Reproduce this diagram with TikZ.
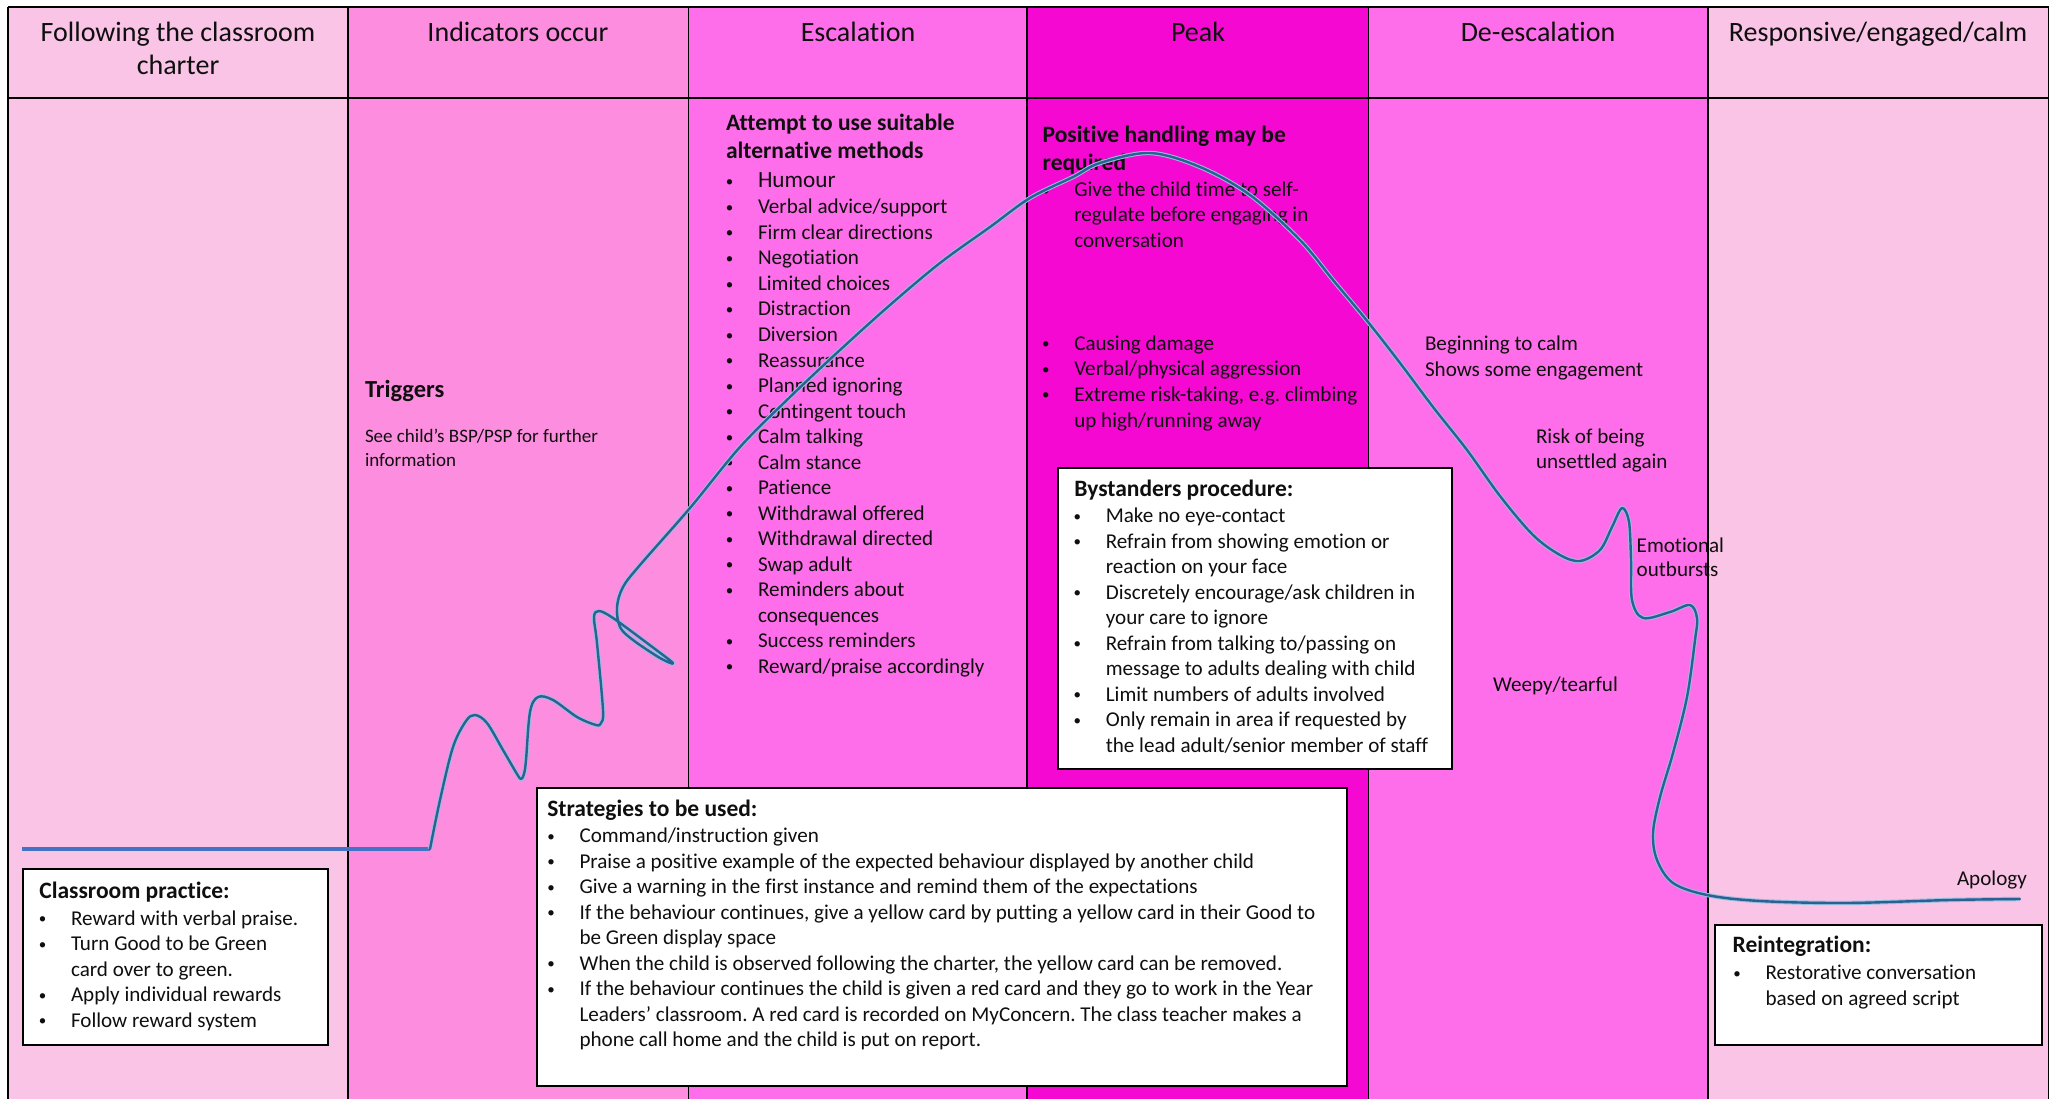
\documentclass[tikz,border=0pt]{standalone}
\usepackage{fontspec}
\setmainfont{Carlito}[Ligatures={NoCommon}]
\frenchspacing
\definecolor{cA}{RGB}{250,196,230}
\definecolor{cB}{RGB}{253,141,223}
\definecolor{cC}{RGB}{255,110,234}
\definecolor{cD}{RGB}{245,8,210}
\definecolor{crvblue}{RGB}{42,96,146}
\definecolor{crvhalo}{RGB}{150,192,224}
\definecolor{hlblue}{RGB}{68,114,196}
\definecolor{ink}{RGB}{15,15,15}
\tikzset{
 body/.style={anchor=base west, inner sep=0pt, outer sep=0pt, text=ink, font=\fontsize{21.1}{25.6}\selectfont},
 bul/.style={anchor=base, inner sep=0pt, outer sep=0pt, text=ink, font=\fontsize{15}{18}\selectfont},
 ttl/.style={anchor=base west, inner sep=0pt, outer sep=0pt, text=ink, font=\bfseries\fontsize{23.5}{28.7}\selectfont},
 smalltxt/.style={anchor=base west, inner sep=0pt, outer sep=0pt, text=ink, font=\fontsize{19}{23.5}\selectfont},
 hdr/.style={anchor=base, inner sep=0pt, outer sep=0pt, text=ink, font=\fontsize{28}{33}\selectfont},
 gridline/.style={line width=1.6pt, black},
 infobox/.style={draw=black, line width=2pt, fill=white, anchor=north west, inner sep=0pt},
 crvline/.style={crvblue, line width=2.4pt, line cap=round, line join=round,
   preaction={draw=crvhalo, line width=4.4pt}},
}
\newcommand{\myitem}[4]{\node[bul] (#1b) at (#2-28.5,#3-1.5) {•}; \node[body] (#1) at (#2,#3) {#4};}
\newcommand{\myline}[4]{\node[body] (#1) at (#2,#3) {#4};}
\begin{document}
\begin{tikzpicture}[x=1pt,y=-1pt]
\useasboundingbox (0,0) rectangle (2055,1099);
\fill[white] (0,0) rectangle (2055,1099);
% columns
\fill[cA] (8,7) rectangle (348,1099);
\fill[cB] (348,7) rectangle (688.5,1099);
\fill[cC] (688.5,7) rectangle (1027,1099);
\fill[cD] (1027,7) rectangle (1368.5,1099);
\fill[cC] (1368.5,7) rectangle (1708,1099);
\fill[cA] (1708,7) rectangle (2048.5,1099);
% grid
\draw[gridline] (8,7) -- (2048.5,7);
\draw[gridline] (8,98) -- (2048.5,98);
\foreach \xx in {8,348,688.5,1027,1368.5,1708,2048.5} {\draw[gridline] (\xx,7) -- (\xx,1099);}
% headers
\node[hdr] (h1a) at (178,41.4) {Following the classroom};
\node[hdr] (h1b) at (178,74.4) {charter};
\node[hdr] (h2) at (518,41.4) {Indicators occur};
\node[hdr] (h3) at (858,41.4) {Escalation};
\node[hdr] (h4) at (1198,41.4) {Peak};
\node[hdr] (h5) at (1538,41.4) {De-escalation};
\node[hdr] (h6) at (1878,41.4) {Responsive/engaged/calm};
% indicators
\node[ttl, font=\bfseries\fontsize{24.5}{29}\selectfont] (trig) at (365,397) {Triggers};
\node[smalltxt] (see1) at (365,442.6) {See child’s BSP/PSP for further};
\node[smalltxt] (see2) at (365,466.5) {information};
% escalation
\node[ttl] (esc1) at (726,130.5) {Attempt to use suitable};
\node[ttl] (esc2) at (726,159) {alternative methods};
\node[bul] (e0b) at (729.5,186.5) {•};
\node[body, font=\fontsize{23.2}{28}\selectfont] (e0) at (758,188) {Humour};
\myitem{e1}{758}{214}{Verbal advice/support}
\myitem{e2}{758}{239.5}{Firm clear directions}
\myitem{e3}{758}{265}{Negotiation}
\myitem{e4}{758}{290.5}{Limited choices}
\myitem{e5}{758}{316}{Distraction}
\myitem{e6}{758}{341.5}{Diversion}
\myitem{e7}{758}{367}{Reassurance}
\myitem{e8}{758}{392.5}{Planned ignoring}
\myitem{e9}{758}{418}{Contingent touch}
\myitem{e10}{758}{443.5}{Calm talking}
\myitem{e11}{758}{469}{Calm stance}
\myitem{e12}{758}{494.5}{Patience}
\myitem{e13}{758}{520}{Withdrawal offered}
\myitem{e14}{758}{545.5}{Withdrawal directed}
\myitem{e15}{758}{571}{Swap adult}
\myitem{e16}{758}{596.5}{Reminders about}
\myline{e16c}{758}{622}{consequences}
\myitem{e17}{758}{647.5}{Success reminders}
\myitem{e18}{758}{673}{Reward/praise accordingly}
% peak
\node[ttl] (pk1) at (1042.7,142.5) {Positive handling may be};
\node[ttl] (pk2) at (1042.7,170.5) {required};
\myitem{p1}{1074.3}{196.7}{Give the child time to self-}
\myline{p1c}{1074.3}{222}{regulate before engaging in}
\myline{p1d}{1074.3}{247.3}{conversation}
\myitem{p2}{1074.3}{350}{Causing damage}
\myitem{p3}{1074.3}{375.7}{Verbal/physical aggression}
\myitem{p4}{1074.3}{401.3}{Extreme risk-taking, e.g. climbing}
\myline{p4c}{1074.3}{427}{up high/running away}
% de-escalation
\myline{d1}{1425}{350.7}{Beginning to calm}
\myline{d2}{1425}{376}{Shows some engagement}
\myline{d3}{1536}{443.3}{Risk of being}
\myline{d4}{1536}{468.3}{unsettled again}
\myline{d5}{1636.7}{552.3}{Emotional}
\myline{d6}{1636.7}{576.7}{outbursts}
\myline{d7}{1493}{691}{Weepy/tearful}
\myline{d8}{1957}{885}{Apology}
% curve
\coordinate (hstart) at (22,849);
\coordinate (hend) at (430,849);
\draw[hlblue, line width=3.2pt] (hstart) -- (hend);
\draw[crvline] plot[smooth, tension=0.55] coordinates {
(430,849) (440,800) (453,747) (466,721) (475,715) (487,723) (503,750) (517,774) (521,779) (524,774)
(526,760) (530,712) (538,697) (553,700) (577,717) (596,725) (601,723) (603,710) (597,643)
(594,617) (599,611) (613,618) (647,643) (673,663) (660,658) (633,640) (620,627)
(617,607) (623,587) (640,565) (690,508) (740,447) (790,397) (840,350)
(890,305) (940,263) (990,227) (1030,198) (1073,177) (1100,163) (1150,153) (1200,167)
(1250,195) (1300,240) (1333,280) (1368,322) (1400,363) (1433,407) (1467,450) (1500,496)
(1533,535) (1560,555) (1580,561) (1600,550) (1612,527) (1622,508) (1629,522) (1631,560)
(1632,600) (1643,618) (1670,612) (1690,605) (1697,618) (1695,640) (1687,697) (1673,753)
(1660,797) (1653,833) (1657,860) (1673,883) (1707,895) (1760,901) (1846,903) (1950,900)
(2020,899)};
% bystanders box
\node[infobox, minimum width=394.5pt, minimum height=300.5pt] (byst) at (1056.5,467) {};
\node[ttl] (bt) at (1074.3,496.5) {Bystanders procedure:};
\myitem{b1}{1105.8}{522.8}{Make no eye-contact}
\myitem{b2}{1105.8}{548.3}{Refrain from showing emotion or}
\myline{b2c}{1105.8}{573.8}{reaction on your face}
\myitem{b3}{1105.8}{599.3}{Discretely encourage/ask children in}
\myline{b3c}{1105.8}{624.8}{your care to ignore}
\myitem{b4}{1105.8}{650.3}{Refrain from talking to/passing on}
\myline{b4c}{1105.8}{675.8}{message to adults dealing with child}
\myitem{b5}{1105.8}{701.3}{Limit numbers of adults involved}
\myitem{b6}{1105.8}{726.8}{Only remain in area if requested by}
\myline{b6c}{1105.8}{752.3}{the lead adult/senior member of staff}
% strategies box
\node[infobox, minimum width=810.5pt, minimum height=298pt] (strat) at (535.5,787) {};
\node[ttl] (st) at (547.3,816.3) {Strategies to be used:};
\myitem{s1}{579.5}{842.5}{Command/instruction given}
\myitem{s2}{579.5}{868}{Praise a positive example of the expected behaviour displayed by another child}
\myitem{s3}{579.5}{893.5}{Give a warning in the first instance and remind them of the expectations}
\myitem{s4}{579.5}{919}{If the behaviour continues, give a yellow card by putting a yellow card in their Good to}
\myline{s4c}{579.5}{944.5}{be Green display space}
\myitem{s5}{579.5}{970}{When the child is observed following the charter, the yellow card can be removed.}
\myitem{s6}{579.5}{995.5}{If the behaviour continues the child is given a red card and they go to work in the Year}
\myline{s6c}{579.5}{1021}{Leaders' classroom. A red card is recorded on MyConcern. The class teacher makes a}
\myline{s6d}{579.5}{1046.5}{phone call home and the child is put on report.}
% classroom practice box
\node[infobox, minimum width=304.8pt, minimum height=175.5pt] (cprac) at (21.7,868) {};
\node[ttl] (ct) at (39.4,898) {Classroom practice:};
\myitem{c1}{71}{925}{Reward with verbal praise.}
\myitem{c2}{71}{950.5}{Turn Good to be Green}
\myline{c2c}{71}{976}{card over to green.}
\myitem{c3}{71}{1001.5}{Apply individual rewards}
\myitem{c4}{71}{1027}{Follow reward system}
% reintegration box
\node[infobox, minimum width=327.8pt, minimum height=119.9pt] (reint) at (1713.6,923.6) {};
\node[ttl] (rt) at (1732.6,952.4) {Reintegration:};
\myitem{r1}{1765.5}{979.7}{Restorative conversation}
\myline{r1c}{1765.5}{1005}{based on agreed script}
\end{tikzpicture}
\end{document}
